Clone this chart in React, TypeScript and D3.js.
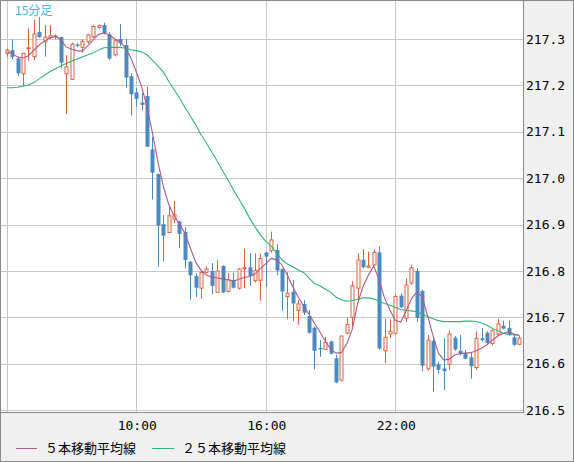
import React from "react";
import * as d3 from "d3";

const W = 574;
const H = 462;

const title = "15分足";
const legendLabels = ["５本移動平均線", "２５本移動平均線"];

const opens = [
  217.269, 217.276, 217.258, 217.225, 217.279, 217.262, 217.315, 217.294, 217.303, 217.305,
  217.304, 217.225, 217.213, 217.288, 217.282, 217.294, 217.305, 217.325, 217.330, 217.310,
  217.266, 217.300, 217.287, 217.220, 217.185, 217.163, 217.177, 217.062, 217.009, 216.901,
  216.883, 216.912, 216.907, 216.884, 216.820, 216.789, 216.763, 216.797, 216.800, 216.754,
  216.811, 216.756, 216.781, 216.763, 216.805, 216.808, 216.779, 216.780, 216.840, 216.844,
  216.845, 216.804, 216.745, 216.755, 216.715, 216.729, 216.703, 216.678, 216.634, 216.631,
  216.648, 216.612, 216.565, 216.666, 216.700, 216.763, 216.824, 216.808, 216.813, 216.840,
  216.628, 216.664, 216.666, 216.747, 216.698, 216.774, 216.800, 216.757, 216.589, 216.649,
  216.599, 216.590, 216.599, 216.656, 216.628, 216.623, 216.614, 216.592, 216.655, 216.667,
  216.644, 216.664, 216.682, 216.677, 216.657, 216.642,
];
const highs = [
  217.279, 217.299, 217.262, 217.270, 217.323, 217.342, 217.347, 217.330, 217.330, 217.310,
  217.305, 217.265, 217.292, 217.291, 217.299, 217.311, 217.330, 217.331, 217.335, 217.315,
  217.298, 217.332, 217.300, 217.226, 217.194, 217.184, 217.197, 217.089, 217.010, 216.921,
  216.942, 216.951, 216.908, 216.894, 216.821, 216.795, 216.802, 216.810, 216.817, 216.824,
  216.812, 216.795, 216.796, 216.806, 216.848, 216.838, 216.838, 216.838, 216.842, 216.885,
  216.858, 216.805, 216.797, 216.781, 216.737, 216.737, 216.716, 216.680, 216.651, 216.658,
  216.650, 216.619, 216.660, 216.700, 216.778, 216.838, 216.847, 216.842, 216.847, 216.853,
  216.697, 216.696, 216.750, 216.752, 216.784, 216.814, 216.806, 216.760, 216.662, 216.658,
  216.605, 216.655, 216.673, 216.660, 216.662, 216.630, 216.626, 216.670, 216.677, 216.670,
  216.674, 216.697, 216.693, 216.693, 216.662, 216.660,
];
const lows = [
  217.262, 217.256, 217.220, 217.199, 217.253, 217.255, 217.303, 217.262, 217.300, 217.300,
  217.237, 217.138, 217.212, 217.282, 217.270, 217.290, 217.302, 217.322, 217.310, 217.255,
  217.262, 217.285, 217.194, 217.135, 217.154, 217.146, 217.068, 216.954, 216.809, 216.821,
  216.882, 216.903, 216.849, 216.806, 216.737, 216.744, 216.740, 216.795, 216.750, 216.754,
  216.752, 216.754, 216.762, 216.760, 216.763, 216.768, 216.775, 216.736, 216.766, 216.840,
  216.791, 216.714, 216.696, 216.692, 216.684, 216.705, 216.665, 216.588, 216.615, 216.631,
  216.620, 216.558, 216.562, 216.664, 216.681, 216.732, 216.806, 216.806, 216.812, 216.630,
  216.601, 216.655, 216.663, 216.720, 216.690, 216.770, 216.690, 216.584, 216.585, 216.540,
  216.580, 216.543, 216.587, 216.628, 216.618, 216.610, 216.568, 216.587, 216.648, 216.643,
  216.640, 216.660, 216.674, 216.660, 216.638, 216.640,
];
const closes = [
  217.276, 217.261, 217.226, 217.269, 217.281, 217.311, 217.304, 217.304, 217.307, 217.307,
  217.249, 217.240, 217.289, 217.285, 217.295, 217.309, 217.327, 217.329, 217.312, 217.258,
  217.296, 217.291, 217.217, 217.181, 217.171, 217.158, 217.068, 217.012, 216.898, 216.876,
  216.919, 216.921, 216.880, 216.824, 216.791, 216.764, 216.797, 216.804, 216.768, 216.800,
  216.754, 216.781, 216.764, 216.804, 216.807, 216.789, 216.801, 216.827, 216.831, 216.867,
  216.801, 216.756, 216.752, 216.730, 216.729, 216.710, 216.667, 216.628, 216.631, 216.646,
  216.622, 216.560, 216.660, 216.685, 216.768, 216.824, 216.808, 216.811, 216.840, 216.633,
  216.657, 216.670, 216.745, 216.722, 216.770, 216.807, 216.699, 216.596, 216.651, 216.594,
  216.587, 216.584, 216.664, 216.631, 216.621, 216.611, 216.595, 216.655, 216.651, 216.645,
  216.671, 216.686, 216.676, 216.662, 216.641, 216.655,
];
const ma5 = [
  217.272, 217.269, 217.261, 217.259, 217.264, 217.276, 217.287, 217.296, 217.302, 217.306,
  217.298, 217.283, 217.278, 217.275, 217.274, 217.285, 217.298, 217.310, 217.313, 217.309,
  217.300, 217.294, 217.281, 217.259, 217.229, 217.197, 217.153, 217.097, 217.035, 216.983,
  216.944, 216.919, 216.901, 216.882, 216.850, 216.819, 216.802, 216.791, 216.787, 216.785,
  216.783, 216.781, 216.778, 216.782, 216.786, 216.788, 216.794, 216.805, 216.816, 216.827,
  216.824, 216.813, 216.791, 216.766, 216.744, 216.725, 216.707, 216.688, 216.669, 216.649,
  216.632, 216.623, 216.624, 216.643, 216.673, 216.729, 216.766, 216.791, 216.811, 216.781,
  216.742, 216.716, 216.694, 216.690, 216.714, 216.740, 216.755, 216.744, 216.703, 216.660,
  216.623, 216.608, 216.610, 216.619, 216.622, 216.623, 216.624, 216.628, 216.634, 216.641,
  216.651, 216.660, 216.666, 216.669, 216.664, 216.661,
];
const ma25 = [
  217.195, 217.195, 217.196, 217.198, 217.201, 217.206, 217.214, 217.222, 217.230, 217.236,
  217.242, 217.247, 217.252, 217.257, 217.261, 217.266, 217.270, 217.276, 217.281, 217.282,
  217.282, 217.282, 217.280, 217.277, 217.275, 217.272, 217.266, 217.254, 217.242, 217.229,
  217.209, 217.191, 217.173, 217.153, 217.134, 217.115, 217.093, 217.076, 217.056, 217.037,
  217.016, 216.996, 216.975, 216.955, 216.936, 216.914, 216.895, 216.878, 216.864, 216.854,
  216.839, 216.824, 216.815, 216.809, 216.802, 216.797, 216.785, 216.773, 216.768, 216.761,
  216.754, 216.744, 216.738, 216.735, 216.736, 216.739, 216.742, 216.742, 216.740, 216.735,
  216.730, 216.726, 216.722, 216.717, 216.715, 216.714, 216.712, 216.707, 216.702, 216.697,
  216.693, 216.691, 216.691, 216.691, 216.691, 216.692, 216.692, 216.691, 216.688, 216.683,
  216.676, 216.671, 216.666, 216.663, 216.662, 216.662,
];

const yTicks = [216.5, 216.6, 216.7, 216.8, 216.9, 217.0, 217.1, 217.2, 217.3];
const xGridIndex = [0, 24, 48, 72];
const xTickIndex = [24, 48, 72];
const xTickLabels = ["10:00", "16:00", "22:00"];

const UP = "#e0603c";
const DOWN = "#4b89c2";
const MA5C = "#b0588a";
const MA25C = "#2fb47a";
const GRID = "#c8c8c8";

export default function App() {
  const x = d3.scaleLinear().domain([0, 95]).range([6.8, 519.4]);
  const y = d3.scaleLinear().domain([216.5, 217.3]).range([410.2, 39]);
  const idx = d3.range(closes.length);

  const lineGen = (arr: number[]) =>
    d3
      .line<number>()
      .x((i) => x(i))
      .y((i) => y(arr[i]))(idx) as string;

  const plotRight = 523;
  const plotBottom = 412;

  return (
    <svg
      width={W}
      height={H}
      style={{ position: "absolute", left: 0, top: 0, display: "block" }}
      fontFamily="'DejaVu Sans Mono', monospace"
    >
      <rect x={0} y={0} width={W} height={H} fill="#f0f0f0" />
      <rect x={1} y={1} width={plotRight - 1} height={plotBottom - 1} fill="#ffffff" />
      <defs>
        <clipPath id="plotclip">
          <rect x={1} y={1} width={plotRight - 1} height={plotBottom - 1} />
        </clipPath>
      </defs>
      {/* grid */}
      <g shapeRendering="crispEdges">
        {yTicks.map((t) => (
          <line
            key={"h" + t}
            x1={1}
            x2={plotRight}
            y1={Math.round(y(t)) + 0.5}
            y2={Math.round(y(t)) + 0.5}
            stroke={GRID}
          />
        ))}
        {xGridIndex.map((i) => (
          <line
            key={"v" + i}
            x1={Math.round(x(i)) + 0.5}
            x2={Math.round(x(i)) + 0.5}
            y1={1}
            y2={plotBottom}
            stroke={GRID}
          />
        ))}
      </g>
      <g clipPath="url(#plotclip)">
        {/* candles */}
        {idx.map((i) => {
          const o = opens[i];
          const c = closes[i];
          const up = c >= o;
          const col = up ? UP : DOWN;
          const cx = Math.round(x(i)) + 0.5;
          const top = y(Math.max(o, c));
          const bot = y(Math.min(o, c));
          const bh = Math.max(bot - top, 1);
          return (
            <g key={"c" + i}>
              <line x1={cx} x2={cx} y1={y(highs[i])} y2={y(lows[i])} stroke={col} strokeWidth={1} />
              {up ? (
                <rect x={cx - 1.5} y={top} width={3} height={bh} fill="#ffffff" stroke={col} strokeWidth={1} />
              ) : (
                <rect x={cx - 2} y={top} width={4} height={bh} fill={col} />
              )}
            </g>
          );
        })}
        {/* moving averages */}
        <path d={lineGen(ma25)} fill="none" stroke={MA25C} strokeWidth={1.1} />
        <path d={lineGen(ma5)} fill="none" stroke={MA5C} strokeWidth={1.1} />
      </g>
      {/* plot border */}
      <g shapeRendering="crispEdges">
        <line x1={plotRight + 0.5} x2={plotRight + 0.5} y1={0} y2={plotBottom + 1} stroke="#8a8a8a" />
        <line x1={0} x2={plotRight + 1} y1={plotBottom + 0.5} y2={plotBottom + 0.5} stroke="#8a8a8a" />
      </g>
      {/* y labels */}
      {yTicks.map((t) => (
        <text
          key={"yl" + t}
          x={526}
          y={y(t)}
          dy="0.36em"
          fontSize={13}
          fill="#000"
        >
          {t.toFixed(1)}
        </text>
      ))}
      {/* x labels */}
      {xTickIndex.map((i, k) => (
        <text
          key={"xl" + i}
          x={x(i) + 1}
          y={430}
          fontSize={13}
          textAnchor="middle"
          fill="#000"
        >
          {xTickLabels[k]}
        </text>
      ))}
      {/* title */}
      <text
        x={15}
        y={15}
        fontSize={12}
        fill="#3fb4e6"
        fontFamily="'Noto Sans CJK JP', sans-serif"
      >
        {title}
      </text>
      {/* legend */}
      <g fontFamily="'Noto Sans CJK JP', sans-serif" fontSize={13} fill="#000">
        <line x1={16} x2={37} y1={448.5} y2={448.5} stroke={MA5C} />
        <text x={45} y={453}>{legendLabels[0]}</text>
        <line x1={152} x2={174} y1={448.5} y2={448.5} stroke={MA25C} />
        <text x={182} y={453}>{legendLabels[1]}</text>
      </g>
      {/* outer border */}
      <rect x={0.5} y={0.5} width={W - 1} height={H - 1} fill="none" stroke="#8a8a8a" shapeRendering="crispEdges" />
    </svg>
  );
}
